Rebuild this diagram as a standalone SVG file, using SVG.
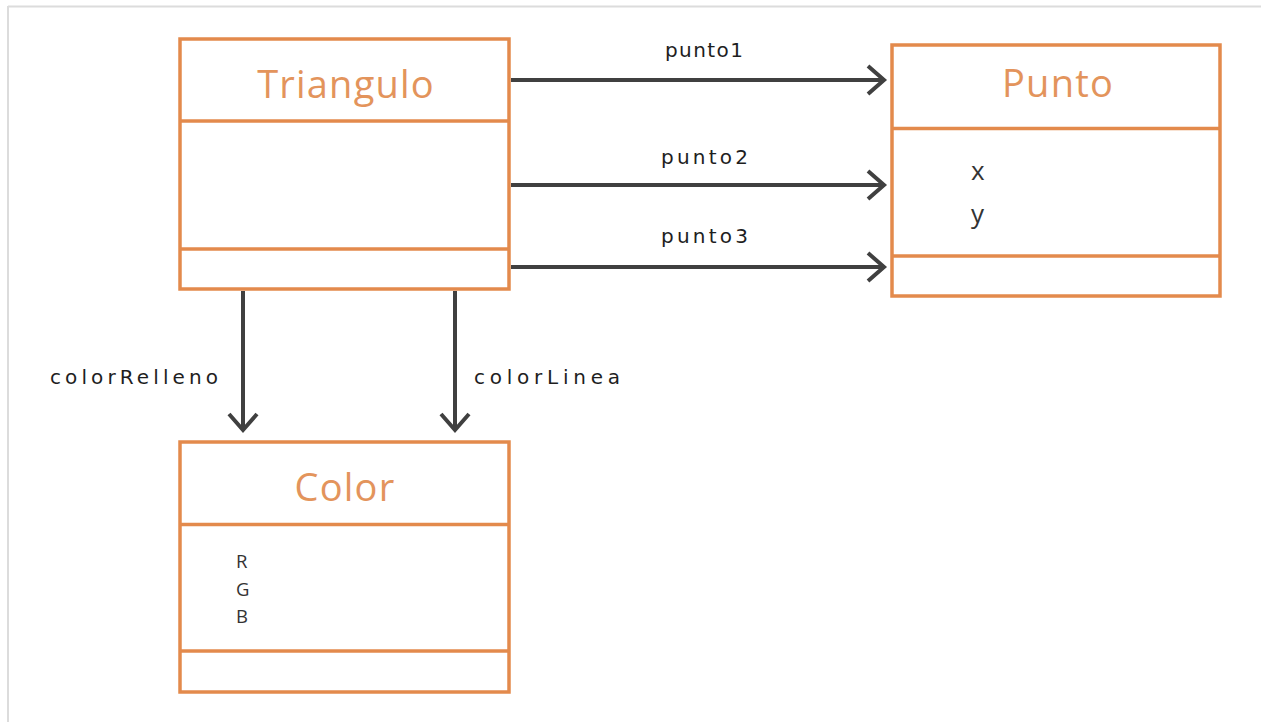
<svg xmlns="http://www.w3.org/2000/svg" width="1261" height="722" viewBox="0 0 1261 722">
<defs>
<style>
.box{fill:#ffffff;stroke:#E38A4C;stroke-width:3.5}
.div{stroke:#E38A4C;stroke-width:3.5}
.title{font-family:"Open Sans","Liberation Sans",sans-serif;font-size:38px;fill:#E3945C;letter-spacing:1.2px;text-anchor:middle}
.attr{font-family:"Open Sans","Liberation Sans",sans-serif;fill:#333333}
.lbl{font-family:"DejaVu Sans","Liberation Sans",sans-serif;font-size:20px;fill:#1e1e1e}
.conn{stroke:#404040;stroke-width:4;fill:none}
</style>
<marker id="arr" markerUnits="userSpaceOnUse" viewBox="-22 -18 28 36" refX="0" refY="0" markerWidth="28" markerHeight="36" orient="auto" overflow="visible">
<path d="M-16,-14 L0,0 L-16,14" fill="none" stroke="#404040" stroke-width="4" stroke-linejoin="miter"/>
</marker>
</defs>
<rect x="0" y="0" width="1261" height="722" fill="#ffffff"/>
<g id="frame">
<line x1="8" y1="6.5" x2="1261" y2="6.5" stroke="#dcdcdc" stroke-width="2"/>
<line x1="8" y1="6" x2="8" y2="722" stroke="#dcdcdc" stroke-width="2"/>
</g>
<g id="triangulo">
<rect class="box" x="180" y="39" width="329" height="250"/>
<line class="div" x1="180" y1="121" x2="509" y2="121"/>
<line class="div" x1="180" y1="249" x2="509" y2="249"/>
<text class="title" x="346" y="98">Triangulo</text>
</g>
<g id="punto">
<rect class="box" x="892" y="45" width="328" height="251"/>
<line class="div" x1="892" y1="128.5" x2="1220" y2="128.5"/>
<line class="div" x1="892" y1="256" x2="1220" y2="256"/>
<text class="title" x="1058" y="97">Punto</text>
<text class="attr" x="971" y="180" font-size="26">x</text>
<text class="attr" x="971" y="223" font-size="26">y</text>
</g>
<g id="color">
<rect class="box" x="180" y="442" width="329" height="250"/>
<line class="div" x1="180" y1="524.5" x2="509" y2="524.5"/>
<line class="div" x1="180" y1="651" x2="509" y2="651"/>
<text class="title" x="345" y="501">Color</text>
<text class="attr" x="236" y="568" font-size="18.5">R</text>
<text class="attr" x="236" y="595.5" font-size="18.5">G</text>
<text class="attr" x="236" y="623" font-size="18.5">B</text>
</g>
<g id="connectors">
<line class="conn" x1="511" y1="80" x2="884" y2="80" marker-end="url(#arr)"/>
<line class="conn" x1="511" y1="185" x2="884" y2="185" marker-end="url(#arr)"/>
<line class="conn" x1="511" y1="267" x2="884" y2="267" marker-end="url(#arr)"/>
<line class="conn" x1="243" y1="291" x2="243" y2="430" marker-end="url(#arr)"/>
<line class="conn" x1="455" y1="291" x2="455" y2="430" marker-end="url(#arr)"/>
<text class="lbl" x="665" y="57" textLength="78" lengthAdjust="spacing">punto1</text>
<text class="lbl" x="661" y="164" textLength="87" lengthAdjust="spacing">punto2</text>
<text class="lbl" x="661" y="243" textLength="87" lengthAdjust="spacing">punto3</text>
<text class="lbl" x="50" y="384" textLength="168" lengthAdjust="spacing">colorRelleno</text>
<text class="lbl" x="474" y="384" textLength="146" lengthAdjust="spacing">colorLinea</text>
</g>
</svg>
